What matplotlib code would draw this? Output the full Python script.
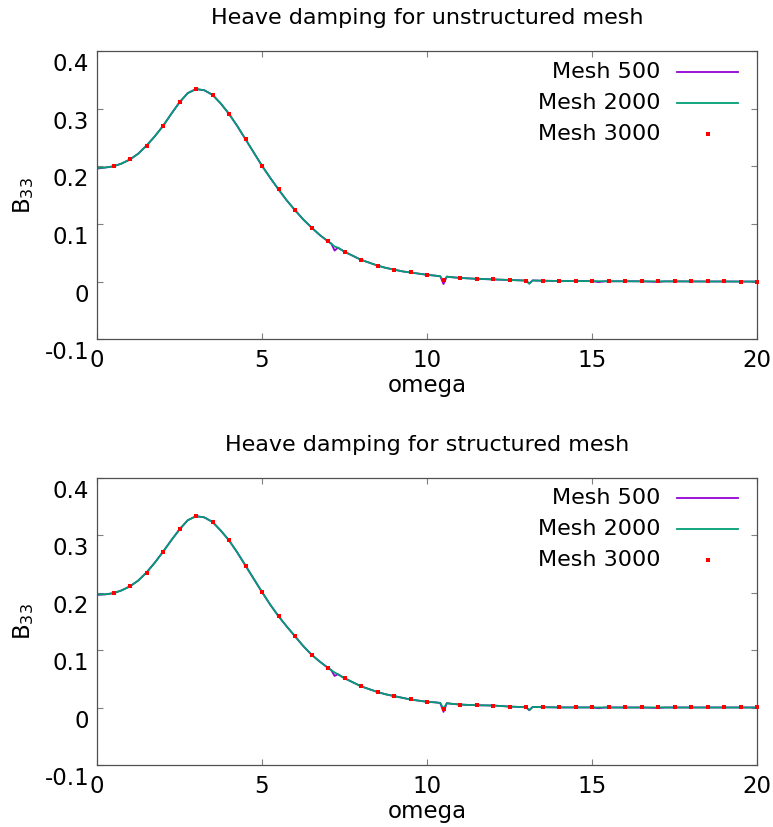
import matplotlib
matplotlib.use("Agg")
import matplotlib.pyplot as plt
from matplotlib.transforms import ScaledTranslation

plt.rcParams['font.family'] = ['DejaVu Sans']
plt.rcParams['mathtext.default'] = 'regular'

# omega grid for the two line series (denser around the irregular-frequency dips)
omega_line = [0, 0.25, 0.5, 0.75, 1.0, 1.25, 1.5, 1.75, 2.0, 2.25,
              2.5, 2.75, 3.0, 3.25, 3.5, 3.75, 4.0, 4.25, 4.5, 4.75,
              5.0, 5.25, 5.5, 5.75, 6.0, 6.25, 6.5, 6.75, 7.0, 7.1,
              7.2, 7.3, 7.5, 7.75, 8.0, 8.25, 8.5, 8.75, 9.0, 9.25,
              9.5, 9.75, 10.0, 10.25, 10.4, 10.5, 10.6, 10.75, 11.0, 11.5,
              12.0, 12.5, 13.0, 13.1, 13.2, 13.5, 14.0, 14.5, 15.0, 15.2,
              15.4, 16.0, 16.5, 17.0, 17.2, 17.5, 18.0, 18.5, 19.0, 19.5,
              20.0]

# omega values of the Mesh 3000 points
omega_pts = [0.5, 1.0, 1.5, 2.0, 2.5, 3.0, 3.5, 4.0, 4.5, 5.0,
             5.5, 6.0, 6.5, 7.0, 7.5, 8.0, 8.5, 9.0, 9.5, 10.0,
             10.5, 11.0, 11.5, 12.0, 12.5, 13.0, 13.5, 14.0, 14.5, 15.0,
             15.5, 16.0, 16.5, 17.0, 17.5, 18.0, 18.5, 19.0, 19.5, 20.0]

# unstructured mesh
b500_unstr = [0.196, 0.198, 0.200, 0.205, 0.212, 0.222, 0.236, 0.252, 0.270, 0.291,
              0.311, 0.327, 0.334, 0.332, 0.324, 0.309, 0.291, 0.270, 0.247, 0.224,
              0.201, 0.180, 0.160, 0.141, 0.124, 0.108, 0.094, 0.081, 0.070, 0.066,
              0.054, 0.059, 0.052, 0.045, 0.038, 0.033, 0.028, 0.024, 0.021, 0.018,
              0.016, 0.014, 0.012, 0.0105, 0.0095, -0.004, 0.0088, 0.0078, 0.0066, 0.005,
              0.004, 0.003, 0.002, -0.003, 0.0022, 0.0017, 0.0013, 0.0012, 0.0010, -0.0006,
              0.0007, 0.0008, 0.0007, -0.0004, 0.0006, 0.0006, 0.0005, 0.0004, 0.0004, 0.0003,
              0.0003]
b2000_unstr = [0.197, 0.198, 0.200, 0.205, 0.212, 0.222, 0.236, 0.252, 0.270, 0.291,
               0.311, 0.327, 0.334, 0.332, 0.324, 0.309, 0.291, 0.270, 0.247, 0.224,
               0.201, 0.180, 0.160, 0.141, 0.124, 0.108, 0.094, 0.081, 0.070, 0.066,
               0.061, 0.059, 0.052, 0.045, 0.038, 0.033, 0.028, 0.024, 0.021, 0.018,
               0.016, 0.014, 0.012, 0.0105, 0.0095, 0.001, 0.0088, 0.0078, 0.0066, 0.005,
               0.004, 0.003, 0.002, -0.0035, 0.0022, 0.0017, 0.0013, 0.0012, 0.0010, 0.0009,
               0.0008, 0.0008, 0.0007, 0.0006, 0.0006, 0.0006, 0.0005, 0.0004, 0.0004, 0.0003,
               0.0003]
b3000_unstr = [0.200, 0.212, 0.236, 0.270, 0.311, 0.334, 0.324, 0.291, 0.247, 0.201,
               0.160, 0.124, 0.094, 0.070, 0.052, 0.038, 0.028, 0.021, 0.016, 0.012,
               0.003, 0.0065, 0.005, 0.004, 0.003, 0.002, 0.0017, 0.0013, 0.0012, 0.0010,
               0.0009, 0.0008, 0.0007, 0.0006, 0.0006, 0.0005, 0.0004, 0.0004, 0.0003, 0.0003]

# structured mesh
b500_str = [0.196, 0.197, 0.199, 0.204, 0.211, 0.221, 0.235, 0.252, 0.271, 0.291,
            0.310, 0.326, 0.333, 0.331, 0.323, 0.308, 0.291, 0.270, 0.247, 0.224,
            0.201, 0.179, 0.159, 0.141, 0.124, 0.107, 0.092, 0.080, 0.069, 0.065,
            0.055, 0.058, 0.051, 0.044, 0.037, 0.032, 0.027, 0.023, 0.020, 0.017,
            0.014, 0.012, 0.010, 0.009, 0.008, -0.0076, 0.0075, 0.0065, 0.0052, 0.004,
            0.0035, 0.0017, 0.0006, -0.0047, 0.0010, 0.0006, 0.0002, 0.0002, 0.0002, -0.0012,
            0.0001, 0.0001, 0.0001, -0.0008, 0.0001, 0.0001, 0.0001, 0.0001, 0.0001, 0.0001,
            0.0001]
b2000_str = [0.197, 0.197, 0.199, 0.204, 0.211, 0.221, 0.235, 0.252, 0.271, 0.291,
             0.310, 0.326, 0.333, 0.331, 0.323, 0.308, 0.291, 0.270, 0.247, 0.224,
             0.201, 0.179, 0.159, 0.141, 0.124, 0.107, 0.092, 0.080, 0.069, 0.065,
             0.061, 0.058, 0.051, 0.044, 0.037, 0.032, 0.027, 0.023, 0.020, 0.017,
             0.014, 0.012, 0.010, 0.009, 0.008, -0.002, 0.0075, 0.0065, 0.0052, 0.004,
             0.0035, 0.0017, 0.0006, -0.0045, 0.0010, 0.0006, 0.0002, 0.0002, 0.0002, 0.0002,
             0.0001, 0.0001, 0.0001, 0.0001, 0.0001, 0.0001, 0.0001, 0.0001, 0.0001, 0.0001,
             0.0001]
b3000_str = [0.199, 0.211, 0.235, 0.271, 0.310, 0.333, 0.323, 0.291, 0.247, 0.201,
             0.159, 0.124, 0.092, 0.069, 0.051, 0.037, 0.027, 0.020, 0.014, 0.010,
             -0.003, 0.005, 0.004, 0.0035, 0.0017, 0.0006, 0.0006, 0.0002, 0.0002, 0.0002,
             0.0001, 0.0001, 0.0001, 0.0001, 0.0001, 0.0001, 0.0001, 0.0001, 0.0001, 0.0001]

titles = ["Heave damping for unstructured mesh", "Heave damping for structured mesh"]
labels = ["Mesh 500", "Mesh 2000", "Mesh 3000"]
xticks = [0, 5, 10, 15, 20]
yticks = [-0.1, 0, 0.1, 0.2, 0.3, 0.4]
ytick_labels = ["-0.1", "0", "0.1", "0.2", "0.3", "0.4"]

W, H = 773, 827
fig = plt.figure(figsize=(W / 100, H / 100), dpi=100)

# axes frames in pixels: left, right, top, bottom
frames = [(97, 757, 51, 339.4), (97, 757, 477.7, 765)]
data = [(b500_unstr, b2000_unstr, b3000_unstr), (b500_str, b2000_str, b3000_str)]

for (l, r, t, b), title, (y500, y2000, y3000) in zip(frames, titles, data):
    aw, ah = r - l, b - t
    ax = fig.add_axes([l / W, 1 - b / H, aw / W, ah / H])
    h500, = ax.plot(omega_line, y500, color='#9400d3', lw=1.3)
    h2000, = ax.plot(omega_line, y2000, color='#009e73', lw=1.3)
    h3000, = ax.plot(omega_pts, y3000, ls='none', marker='s', ms=3, mew=0,
                     color='#ff0000', clip_on=False)

    ax.set_xlim(0, 20)
    ax.set_ylim(-0.1, 0.4)
    ax.set_xticks(xticks)
    ax.set_yticks(yticks)
    ax.set_yticklabels(ytick_labels)
    ax.tick_params(direction='in', top=True, right=True, length=4, width=0.8,
                   color='#808080', labelsize=16.5, labelcolor='black')
    ax.tick_params(axis='x', pad=7)
    ax.tick_params(axis='y', pad=5.5)
    for sp in ax.spines.values():
        sp.set_color('#505050')
        sp.set_linewidth(0.9)

    # gnuplot puts the y tick labels a little below the tick
    off = ScaledTranslation(0, -11 / 100, fig.dpi_scale_trans)
    for lab in ax.get_yticklabels():
        lab.set_transform(lab.get_transform() + off)

    ax.set_title(title, fontsize=16, pad=19.5)
    ax.set_xlabel("omega", fontsize=16.5, labelpad=1.5)
    ax.set_ylabel("B$_{33}$", fontsize=16.5)
    ax.yaxis.set_label_coords(-0.092, 0.5)

    # gnuplot style key: right-aligned text, sample on the right
    for i, (lab, h) in enumerate(zip(labels, [h500, h2000, h3000])):
        ky = 1 - (20.7 + 31 * i) / ah
        ax.text((660 - l) / aw, ky, lab, transform=ax.transAxes, ha='right',
                va='center', fontsize=16)
        if h.get_linestyle() == 'None':
            ax.plot([(707.5 - l) / aw], [ky], transform=ax.transAxes, ls='none',
                    marker='s', ms=3, mew=0, color=h.get_color(), clip_on=False)
        else:
            ax.plot([(677 - l) / aw, (738 - l) / aw], [ky, ky], transform=ax.transAxes,
                    color=h.get_color(), lw=1.3, clip_on=False)

fig.savefig("out.png", dpi=100)
